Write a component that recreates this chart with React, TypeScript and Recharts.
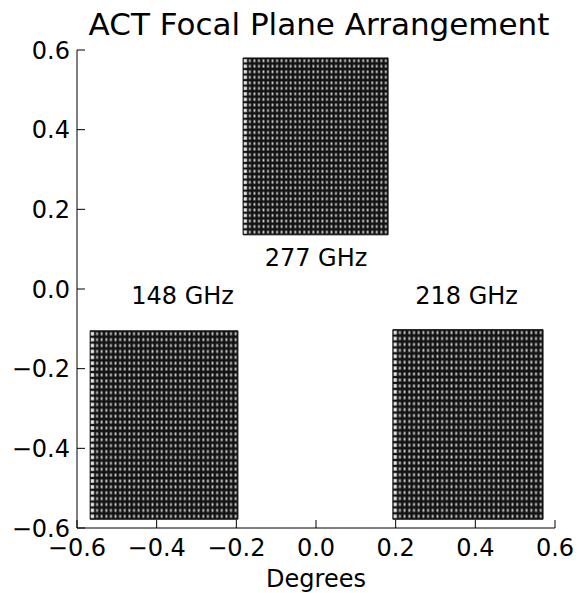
import React from 'react';
import { ComposedChart, XAxis, YAxis, Scatter, ReferenceArea } from 'recharts';

// detector arrays (degrees on the sky)
const bands = ['148 GHz', '218 GHz', '277 GHz'];
const arrayLeft = [-0.567, 0.193, -0.183];
const arrayRight = [-0.196, 0.57, 0.181];
const arrayBottom = [-0.578, -0.578, 0.136];
const arrayTop = [-0.105, -0.102, 0.58];

// band label positions
const labelX = [-0.335, 0.378, 0.0];
const labelY = [-0.018, -0.018, 0.077];

const ticks = [-0.6, -0.4, -0.2, 0, 0.2, 0.4, 0.6];
const DETECTORS = 32; // 32 x 32 per array

const FONT = '"DejaVu Sans", Verdana, sans-serif';

const fmt = (v: number) => {
  const s = Math.abs(v) < 1e-9 ? '0.0' : v.toFixed(1);
  return s.replace('-', '\u2212');
};

const labelPoints = bands.map((name, i) => ({ x: labelX[i], y: labelY[i], name }));

const BandLabel = (props: any) => (
  <text
    x={props.cx}
    y={props.cy}
    textAnchor="middle"
    dominantBaseline="central"
    fontSize={24}
    fontFamily={FONT}
    fill="#000"
  >
    {props.payload.name}
  </text>
);

export default function App() {
  const cell = 1 / DETECTORS;
  const axisStyle = { fill: '#000', fontSize: 24, fontFamily: FONT };

  return (
    <div style={{ position: 'absolute', left: 0, top: 0, width: 579, height: 593, background: '#fff', fontFamily: FONT }}>
      <svg width={0} height={0} style={{ position: 'absolute' }}>
        <defs>
          <pattern
            id="det"
            patternUnits="objectBoundingBox"
            patternContentUnits="objectBoundingBox"
            width={cell}
            height={cell}
          >
            <rect x={0} y={0} width={cell} height={cell} fill="#121212" />
            <rect x={cell * 0.3} y={cell * 0.25} width={cell * 0.4} height={cell * 0.5} fill="#cfcfcf" />
          </pattern>
          {/* first column of each array reads lighter in the scan */}
          <pattern
            id="det-edge"
            patternUnits="objectBoundingBox"
            patternContentUnits="objectBoundingBox"
            width={1}
            height={cell}
          >
            <rect x={0} y={0} width={1} height={cell} fill="#121212" />
            <rect x={0.15} y={cell * 0.2} width={0.7} height={cell * 0.6} fill="#e6e6e6" />
          </pattern>
        </defs>
      </svg>
      <div
        style={{
          position: 'absolute',
          left: 80,
          width: 478,
          top: 9,
          textAlign: 'center',
          fontSize: 31,
          lineHeight: '31px',
          color: '#000',
          whiteSpace: 'nowrap',
        }}
      >
        ACT Focal Plane Arrangement
      </div>
      <ComposedChart width={579} height={593} margin={{ top: 50, right: 24, bottom: 0, left: 8 }}>
        <XAxis
          dataKey="x"
          type="number"
          domain={[-0.6, 0.6]}
          ticks={ticks}
          interval={0}
          allowDataOverflow
          tickFormatter={fmt}
          tickSize={-8}
          tickMargin={19}
          height={65}
          tick={axisStyle}
          axisLine={{ stroke: '#000' }}
          tickLine={{ stroke: '#000' }}
          label={{ value: 'Degrees', position: 'insideBottom', offset: 6, ...axisStyle }}
        />
        <XAxis
          xAxisId="top"
          orientation="top"
          dataKey="x"
          type="number"
          domain={[-0.6, 0.6]}
          ticks={ticks}
          interval={0}
          allowDataOverflow
          height={0}
          tick={false}
          tickSize={-8}
          axisLine={{ stroke: '#000' }}
          tickLine={{ stroke: '#000' }}
        />
        <YAxis
          dataKey="y"
          type="number"
          domain={[-0.6, 0.6]}
          ticks={ticks}
          interval={0}
          allowDataOverflow
          tickFormatter={fmt}
          tickSize={-8}
          tickMargin={15}
          width={69}
          tick={axisStyle}
          axisLine={{ stroke: '#000' }}
          tickLine={{ stroke: '#000' }}
        />
        <YAxis
          yAxisId="right"
          orientation="right"
          dataKey="y"
          type="number"
          domain={[-0.6, 0.6]}
          ticks={ticks}
          interval={0}
          allowDataOverflow
          width={0}
          tick={false}
          tickSize={-8}
          axisLine={{ stroke: '#000' }}
          tickLine={{ stroke: '#000' }}
        />
        {bands.map((b, i) => (
          <ReferenceArea
            key={b}
            x1={arrayLeft[i]}
            x2={arrayRight[i]}
            y1={arrayBottom[i]}
            y2={arrayTop[i]}
            fill="url(#det)"
            fillOpacity={1}
            stroke="#111"
            strokeWidth={1}
            ifOverflow="visible"
          />
        ))}
        {bands.map((b, i) => (
          <ReferenceArea
            key={`${b}-edge`}
            x1={arrayLeft[i]}
            x2={arrayLeft[i] + (arrayRight[i] - arrayLeft[i]) / DETECTORS}
            y1={arrayBottom[i]}
            y2={arrayTop[i]}
            fill="url(#det-edge)"
            fillOpacity={1}
            stroke="none"
            ifOverflow="visible"
          />
        ))}
        <Scatter data={labelPoints} shape={BandLabel} isAnimationActive={false} />
      </ComposedChart>
    </div>
  );
}
